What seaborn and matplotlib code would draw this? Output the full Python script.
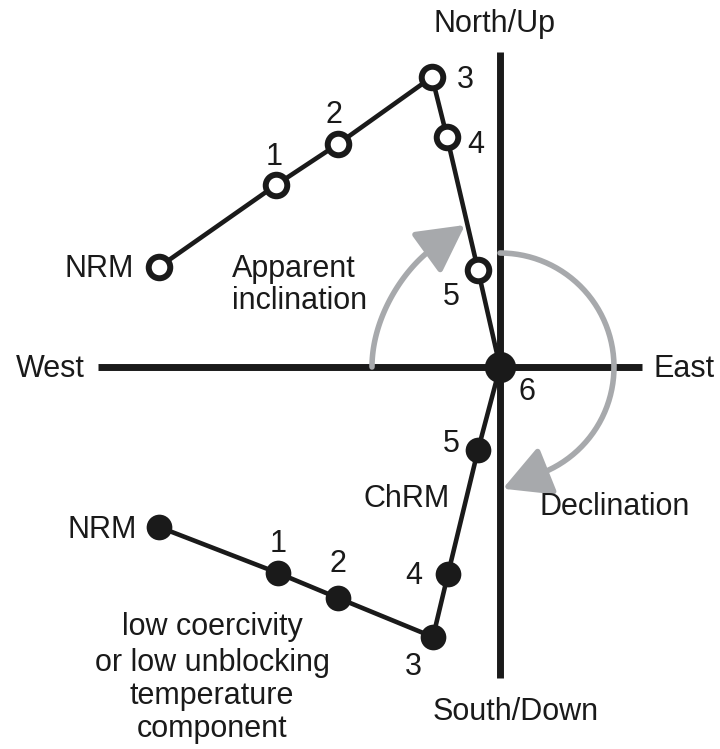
import numpy as np
import pandas as pd
import matplotlib
matplotlib.use("Agg")
import matplotlib.pyplot as plt
import seaborn as sns
from matplotlib.patches import FancyArrowPatch
from matplotlib.path import Path

sns.set_theme(style="white")
plt.rcParams["font.family"] = ["Liberation Sans", "DejaVu Sans"]

# Demagnetization steps
steps = ["NRM", "1", "2", "3", "4", "5", "6"]
# Vertical projection (East vs Up), open symbols
vert_east = [-34.1, -22.4, -16.2, -6.8, -5.3, -2.2, 0.0]
vert_up = [10.0, 18.2, 22.3, 29.0, 23.0, 9.7, 0.0]
# Horizontal projection (East vs North), filled symbols
horiz_east = [-34.1, -22.2, -16.2, -6.7, -5.2, -2.2, 0.0]
horiz_north = [-16.0, -20.6, -23.1, -27.0, -20.7, -8.3, 0.0]

vert = pd.DataFrame({"step": steps, "x": vert_east, "y": vert_up})
horiz = pd.DataFrame({"step": steps, "x": horiz_east, "y": horiz_north})

ink = "#1a1a1a"
grey = "#a7a9ac"
fs = 22

fig = plt.figure(figsize=(7.2, 7.49), dpi=100)
ax = fig.add_axes([0, 0, 1, 1])
ax.set_xlim(-50, 22)
ax.set_ylim(-38.2, 36.7)
ax.set_axis_off()

# Orthogonal axes
ax.plot([-40.2, 14.2], [0, 0], color=ink, lw=5, solid_capstyle="butt", zorder=1)
ax.plot([0, 0], [-31.1, 31.5], color=ink, lw=5, solid_capstyle="butt", zorder=1)

# Angle arrows
def arrow_along(verts, z=2):
    p = FancyArrowPatch(path=Path(np.asarray(verts)),
                        arrowstyle="-|>,head_length=29,head_width=15.5",
                        mutation_scale=1, color=grey, lw=4.0, zorder=z)
    ax.add_patch(p)

# apparent inclination: curve rising from the West axis
P0 = np.array([-12.8, 0.0]); P1 = np.array([-12.8, 5.0])
P2 = np.array([-9.6, 9.8]); P3 = np.array([-6.75, 11.85])
t = np.linspace(0, 1, 80)[:, None]
bez = ((1 - t) ** 3) * P0 + 3 * ((1 - t) ** 2) * t * P1 + 3 * (1 - t) * t ** 2 * P2 + t ** 3 * P3
arrow_along(np.vstack([bez, [[-3.5, 14.2]]]))

# declination: clockwise from North round to the South axis
ang = np.radians(np.linspace(90, -68, 160))
R = 11.4
arc = np.column_stack([R * np.cos(ang), R * np.sin(ang)])
arrow_along(np.vstack([arc, [[0.28, -12.17]]]))

# Projection paths
sns.lineplot(data=vert, x="x", y="y", sort=False, estimator=None,
             color=ink, lw=3.3, ax=ax, zorder=3)
sns.lineplot(data=horiz, x="x", y="y", sort=False, estimator=None,
             color=ink, lw=3.3, ax=ax, zorder=3)
sns.scatterplot(data=vert.iloc[:-1], x="x", y="y", s=15.5 ** 2, marker="o",
                facecolor="white", edgecolor=ink, linewidth=4.3, ax=ax, zorder=4)
sns.scatterplot(data=horiz.iloc[:-1], x="x", y="y", s=18.5 ** 2, marker="o",
                color=ink, edgecolor=ink, linewidth=0, ax=ax, zorder=4)
sns.scatterplot(x=[vert_east[-1]], y=[vert_up[-1]], s=22.5 ** 2, marker="o",
                color=ink, edgecolor=ink, linewidth=0, ax=ax, zorder=5)

def label(x, y, s, ha="center"):
    ax.text(x, y, s, fontsize=fs, color=ink, ha=ha, va="baseline", zorder=6)

# step labels, vertical projection
label(-36.6, 9.0, "NRM", ha="right")
label(-22.6, 20.2, "1")
label(-16.6, 24.4, "2")
label(-3.5, 27.9, "3")
label(-2.4, 21.4, "4")
label(-4.9, 6.2, "5")
label(2.7, -3.3, "6")
# step labels, horizontal projection
label(-36.3, -17.1, "NRM", ha="right")
label(-22.2, -18.5, "1")
label(-16.2, -20.5, "2")
label(-8.7, -30.8, "3")
label(-8.6, -21.7, "4")
label(-4.9, -8.5, "5")

# axis names
label(-0.6, 33.5, "North/Up")
label(-6.7, -35.3, "South/Down", ha="left")
label(-41.5, -1.0, "West", ha="right")
label(15.3, -1.0, "East", ha="left")

# annotations
label(-26.8, 9.0, "Apparent", ha="left")
label(-26.8, 5.8, "inclination", ha="left")
label(-9.3, -14.0, "ChRM")
label(4.0, -14.8, "Declination", ha="left")
for yb, line in zip([-26.8, -30.4, -33.7, -37.0],
                    ["low coercivity", "or low unblocking", "temperature", "component"]):
    label(-28.8, yb, line)

fig.savefig("out.png", dpi=100, facecolor="white")
